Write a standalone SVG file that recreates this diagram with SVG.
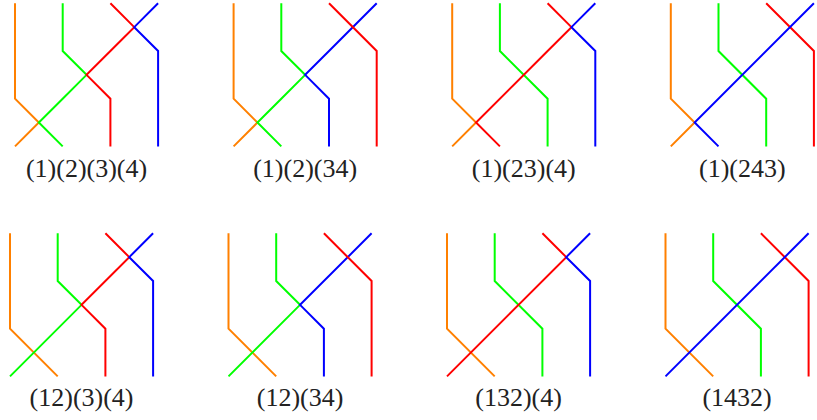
<svg xmlns="http://www.w3.org/2000/svg" width="817" height="420" viewBox="0 0 817 420">
<style>
path{fill:none;stroke-width:2;stroke-linejoin:miter}
.o{stroke:#FF8000}.g{stroke:#00FF00}.r{stroke:#FF0000}.b{stroke:#0000FF}
text{font-family:"Liberation Serif","Times New Roman",serif;font-size:26px;text-anchor:middle;fill:#222}
</style>
<rect width="817" height="420" fill="#fff"/>
<g id="p1" transform="translate(15,3.3)">
<g id="p1-lines">
<path class="o" d="M0 0V95.4L23.85 119.25L0 143.1"/>
<path class="g" d="M47.7 0V47.7L71.55 71.55L47.7 95.4L23.85 119.25L47.7 143.1"/>
<path class="r" d="M95.4 0L119.25 23.85L95.4 47.7L71.55 71.55L95.4 95.4V143.1"/>
<path class="b" d="M143.1 0L119.25 23.85L143.1 47.7V143.1"/>
</g>
<text x="71.55" y="173.7">(1)(2)(3)(4)</text>
</g>
<g id="p2" transform="translate(233.6,3.3)">
<g id="p2-lines">
<path class="o" d="M0 0V95.4L23.85 119.25L0 143.1"/>
<path class="g" d="M47.7 0V47.7L71.55 71.55L47.7 95.4L23.85 119.25L47.7 143.1"/>
<path class="b" d="M143.1 0L95.4 47.7L71.55 71.55L95.4 95.4V143.1"/>
<path class="r" d="M95.4 0L143.1 47.7V143.1"/>
</g>
<text x="71.55" y="173.7">(1)(2)(34)</text>
</g>
<g id="p3" transform="translate(452.2,3.3)">
<g id="p3-lines">
<path class="o" d="M0 0V95.4L23.85 119.25L0 143.1"/>
<path class="g" d="M47.7 0V47.7L95.4 95.4V143.1"/>
<path class="r" d="M95.4 0L119.25 23.85L95.4 47.7L23.85 119.25L47.7 143.1"/>
<path class="b" d="M143.1 0L119.25 23.85L143.1 47.7V143.1"/>
</g>
<text x="71.55" y="173.7">(1)(23)(4)</text>
</g>
<g id="p4" transform="translate(670.8,3.3)">
<g id="p4-lines">
<path class="o" d="M0 0V95.4L23.85 119.25L0 143.1"/>
<path class="g" d="M47.7 0V47.7L95.4 95.4V143.1"/>
<path class="r" d="M95.4 0L143.1 47.7V143.1"/>
<path class="b" d="M143.1 0L23.85 119.25L47.7 143.1"/>
</g>
<text x="71.55" y="173.7">(1)(243)</text>
</g>
<g id="p5" transform="translate(10,233.3)">
<g id="p5-lines">
<path class="o" d="M0 0V95.4L47.7 143.1"/>
<path class="g" d="M47.7 0V47.7L71.55 71.55L0 143.1"/>
<path class="r" d="M95.4 0L119.25 23.85L71.55 71.55L95.4 95.4V143.1"/>
<path class="b" d="M143.1 0L119.25 23.85L143.1 47.7V143.1"/>
</g>
<text x="71.55" y="172.7">(12)(3)(4)</text>
</g>
<g id="p6" transform="translate(228.5,233.3)">
<g id="p6-lines">
<path class="o" d="M0 0V95.4L47.7 143.1"/>
<path class="g" d="M47.7 0V47.7L71.55 71.55L0 143.1"/>
<path class="b" d="M143.1 0L71.55 71.55L95.4 95.4V143.1"/>
<path class="r" d="M95.4 0L143.1 47.7V143.1"/>
</g>
<text x="71.55" y="172.7">(12)(34)</text>
</g>
<g id="p7" transform="translate(447,233.3)">
<g id="p7-lines">
<path class="o" d="M0 0V95.4L47.7 143.1"/>
<path class="g" d="M47.7 0V47.7L95.4 95.4V143.1"/>
<path class="r" d="M95.4 0L119.25 23.85L0 143.1"/>
<path class="b" d="M143.1 0L119.25 23.85L143.1 47.7V143.1"/>
</g>
<text x="71.55" y="172.7">(132)(4)</text>
</g>
<g id="p8" transform="translate(665.5,233.3)">
<g id="p8-lines">
<path class="o" d="M0 0V95.4L47.7 143.1"/>
<path class="g" d="M47.7 0V47.7L95.4 95.4V143.1"/>
<path class="r" d="M95.4 0L143.1 47.7V143.1"/>
<path class="b" d="M143.1 0L0 143.1"/>
</g>
<text x="71.55" y="172.7">(1432)</text>
</g>
</svg>
